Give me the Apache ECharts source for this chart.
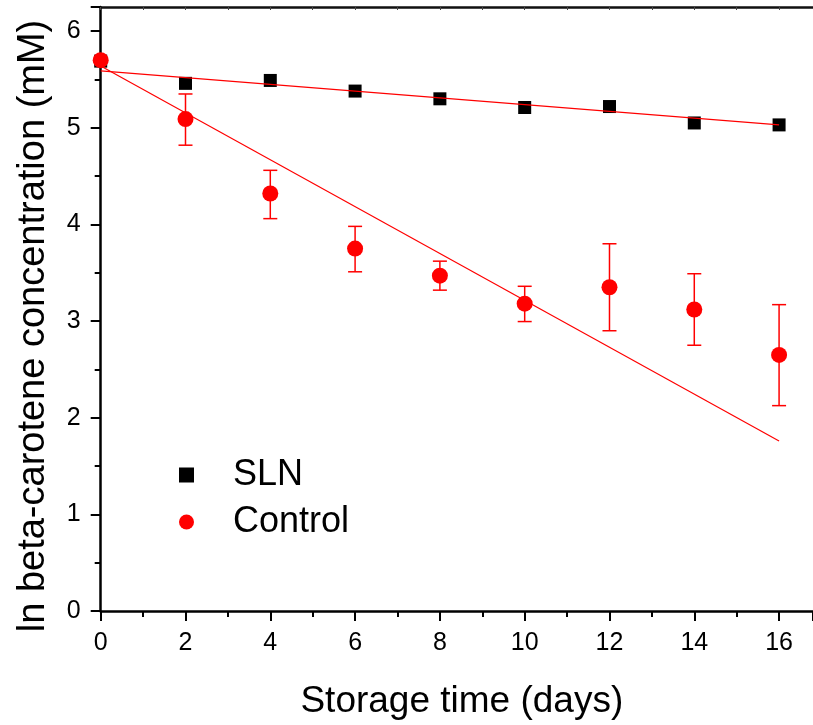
<!DOCTYPE html>
<html>
<head>
<meta charset="utf-8">
<script src="https://cdn.jsdelivr.net/npm/echarts@6/dist/echarts.min.js"></script>
<style>html,body{margin:0;padding:0;background:#fff}#c{width:813px;height:725px}</style>
</head>
<body>
<div id="c"></div>
<script>
var days = [0, 2, 4, 6, 8, 10, 12, 14, 16];
var slnValues = [5.69, 5.46, 5.49, 5.38, 5.30, 5.21, 5.22, 5.05, 5.03];
var controlValues = [5.70, 5.09, 4.32, 3.75, 3.47, 3.18, 3.35, 3.12, 2.65];
var controlErrLow = [5.70, 4.82, 4.06, 3.51, 3.32, 2.995, 2.90, 2.75, 2.125];
var controlErrHigh = [5.70, 5.35, 4.56, 3.98, 3.62, 3.36, 3.80, 3.49, 3.17];
var slnFitX = [0, 16];
var slnFitY = [5.59, 5.03];
var controlFitX = [0, 16];
var controlFitY = [5.64, 1.76];
var xTitle = 'Storage time (days)';
var yTitle = 'ln beta-carotene concentration (mM)';

var font = '"Liberation Sans", Arial, sans-serif';
function pairs(xs, ys) { return xs.map(function (x, i) { return [x, ys[i]]; }); }
var errData = days.map(function (d, i) { return [d, controlErrLow[i], controlErrHigh[i]]; });

var chart = echarts.init(document.getElementById('c'), null, {renderer: 'canvas'});
chart.setOption({
  animation: false,
  backgroundColor: '#fff',
  grid: {left: 100.7, top: 7, right: 0, bottom: 111.7, containLabel: false},
  legend: {
    orient: 'vertical', left: 174, top: 452, itemWidth: 15, itemHeight: 15, itemGap: 11,
    textStyle: {fontFamily: font, fontSize: 36, color: '#000', padding: [0, 0, 0, 34]},
    data: [
      {name: 'SLN', icon: 'rect', itemStyle: {color: '#000', opacity: 1}},
      {name: 'Control', icon: 'circle', itemStyle: {color: '#ff0000', opacity: 1}}
    ]
  },
  xAxis: [{
    type: 'value', min: 0, max: 16.8, interval: 2,
    name: xTitle, nameLocation: 'middle', nameGap: 72,
    nameTextStyle: {fontFamily: font, fontSize: 37, color: '#000', padding: [0, 0, 0, 10]},
    axisLine: {show: true, onZero: false, lineStyle: {color: '#000', width: 2.5}},
    axisTick: {show: true, inside: false, length: 10, lineStyle: {color: '#000', width: 2}},
    minorTick: {show: true, splitNumber: 2, length: 6, lineStyle: {color: '#000', width: 2}},
    axisLabel: {fontFamily: font, fontSize: 25, color: '#000', margin: 20, showMaxLabel: false,
      formatter: function (v) { return (v % 2 === 0) ? String(v) : ''; }},
    splitLine: {show: false}
  }, {
    type: 'value', position: 'top', min: 0, max: 16.8, interval: 1,
    axisLine: {show: true, onZero: false, lineStyle: {color: '#111', width: 2.5}},
    axisTick: {show: true, inside: true, length: 3, lineStyle: {color: '#444', width: 1}},
    axisLabel: {show: false}, splitLine: {show: false}
  }],
  yAxis: {
    type: 'value', min: 0, max: 6.25, interval: 1,
    name: yTitle, nameLocation: 'middle', nameGap: 48, nameRotate: 90,
    nameTextStyle: {fontFamily: font, fontSize: 38, color: '#000', padding: [0, 34, 0, 0]},
    axisLine: {show: true, onZero: false, lineStyle: {color: '#000', width: 2.5}},
    axisTick: {show: true, inside: false, length: 10, lineStyle: {color: '#000', width: 2}},
    minorTick: {show: true, splitNumber: 2, length: 6, lineStyle: {color: '#000', width: 2}},
    axisLabel: {fontFamily: font, fontSize: 25, color: '#000', margin: 20, showMaxLabel: false,
      formatter: function (v) { return (v % 1 === 0) ? String(v) : ''; }},
    splitLine: {show: false}
  },
  series: [
    {
      name: 'Control error', type: 'custom', xAxisIndex: 0, yAxisIndex: 0, z: 3,
      data: errData,
      renderItem: function (params, api) {
        var lo = api.coord([api.value(0), api.value(1)]);
        var hi = api.coord([api.value(0), api.value(2)]);
        var w = 7;
        var st = {stroke: '#ff0000', lineWidth: 1.5};
        return {type: 'group', children: [
          {type: 'line', shape: {x1: lo[0], y1: lo[1], x2: hi[0], y2: hi[1]}, style: st},
          {type: 'line', shape: {x1: lo[0] - w, y1: lo[1], x2: lo[0] + w, y2: lo[1]}, style: st},
          {type: 'line', shape: {x1: hi[0] - w, y1: hi[1], x2: hi[0] + w, y2: hi[1]}, style: st}
        ]};
      }
    },
    {
      name: 'SLN', type: 'scatter', symbol: 'rect', symbolSize: 13, z: 4,
      itemStyle: {color: '#000', opacity: 1}, data: pairs(days, slnValues)
    },
    {
      name: 'Control', type: 'scatter', symbol: 'circle', symbolSize: 16, z: 5,
      itemStyle: {color: '#ff0000', opacity: 1}, data: pairs(days, controlValues)
    },
    {
      name: 'SLN fit', type: 'line', symbol: 'none', z: 6,
      lineStyle: {color: '#ff0000', width: 1.2}, data: pairs(slnFitX, slnFitY)
    },
    {
      name: 'Control fit', type: 'line', symbol: 'none', z: 6,
      lineStyle: {color: '#ff0000', width: 1.2}, data: pairs(controlFitX, controlFitY)
    }
  ]
});
</script>
</body>
</html>
